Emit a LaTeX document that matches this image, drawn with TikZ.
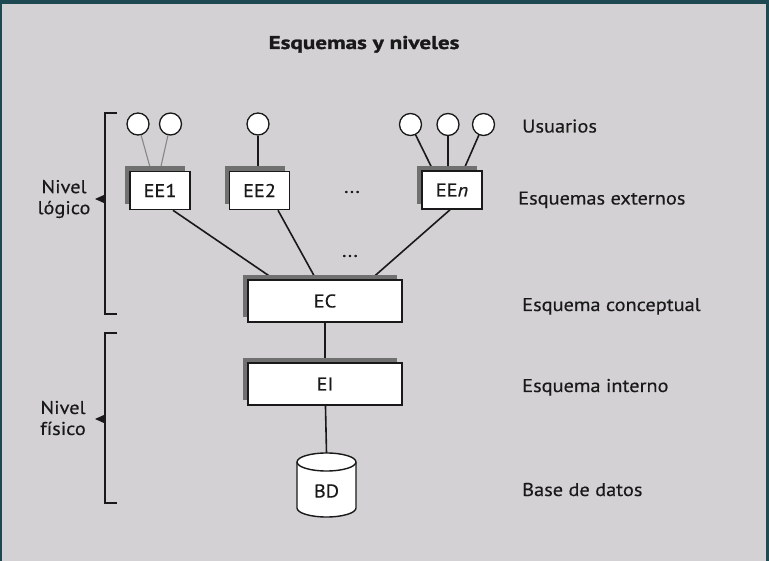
\documentclass[tikz,border=0pt]{standalone}
\usepackage{fontspec}
\setmainfont{PT Sans}[FakeStretch=1.1, FakeBold=0.35]
\newfontfamily\titlefont{PT Sans}[FakeStretch=1.25, BoldFeatures={FakeBold=1.3}]
\usetikzlibrary{shadows,calc}
\definecolor{bgteal}{RGB}{30,72,82}
\definecolor{bggray}{RGB}{211,209,212}
\definecolor{shadowgray}{RGB}{112,112,112}
\definecolor{ink}{RGB}{25,25,25}
\definecolor{thinline}{RGB}{135,135,135}
\pgfdeclarelayer{bottom}
\pgfdeclarelayer{background}
\pgfsetlayers{bottom,background,main}
\begin{document}
\begin{tikzpicture}[x=1pt,y=-1pt,
  every node/.style={font=\fontsize{18.5}{21}\selectfont, text=ink, inner sep=0pt},
  schemebox/.style={draw=ink, line width=1.6pt, fill=white,
    minimum width=60pt, minimum height=38pt,
    drop shadow={shadow xshift=-5pt, shadow yshift=5pt, fill=shadowgray, opacity=1}},
  widebox/.style={schemebox, minimum width=154pt, minimum height=42pt},
  user/.style={circle, draw=ink, line width=1.3pt, fill=white, minimum size=22pt},
  conn/.style={draw=ink, line width=1.6pt},
  thinconn/.style={draw=thinline, line width=1.1pt},
  bracket/.style={draw=ink, line width=1.6pt},
  label/.style={anchor=base west},
  levellabel/.style={align=center}
]
\useasboundingbox (0,0) rectangle (769,561);
\begin{pgfonlayer}{bottom}
  \fill[bgteal] (0,0) rectangle (769,561);
  \fill[bggray] (2,4) rectangle (766,561);
\end{pgfonlayer}

% title
\node[font=\titlefont\bfseries\fontsize{18.5}{22}\selectfont, anchor=base] (title) at (364,49) {Esquemas y niveles};

% users
\node[user] (u11) at (138,124) {};
\node[user] (u12) at (170.5,124) {};
\node[user] (u2) at (258,124) {};
\node[user] (u31) at (410.5,124.5) {};
\node[user] (u32) at (448,124.5) {};
\node[user] (u33) at (483.5,124.5) {};

% external schemas
\node[schemebox] (ee1) at (160,190.5) {EE1};
\node[schemebox] (ee2) at (259.5,190.5) {EE2};
\node[schemebox] (een) at (452,190) {EE\textit{n}};
\node (dots1) at (352,192) {...};
\node (dots2) at (350,256) {...};

% conceptual / internal
\node[widebox] (ec) at (325,301) {EC};
\node[widebox] (ei) at (325,384) {EI};

% database cylinder
\filldraw[fill=white, draw=ink, line width=1.4pt]
  (297,462) -- (297,508) arc[start angle=180, end angle=360, x radius=29.5pt, y radius=9pt] -- (356,462);
\filldraw[fill=white, draw=ink, line width=1.4pt] (326.5,462) ellipse [x radius=29.5pt, y radius=9pt];
\coordinate (bdtop) at (326.5,453);
\node (bd) at (326.5,491) {BD};

% connectors
\begin{pgfonlayer}{background}
  \draw[thinconn] (u11) -- ([xshift=-9pt]ee1.north);
  \draw[thinconn] (u12) -- (ee1.north);
  \draw[conn] (u2) -- (u2 |- ee2.north);
  \draw[conn] (u31) -- ([xshift=-19pt]een.north);
  \draw[conn] (u32) -- (u32 |- een.north);
  \draw[conn] (u33) -- ([xshift=11.5pt]een.north);
  \draw[conn] ([xshift=13pt]ee1.south) -- ([xshift=-51pt]ec.north);
  \draw[conn] ([xshift=18.5pt]ee2.south) -- ([xshift=-9pt]ec.north);
  \draw[conn] ([xshift=-2pt]een.south) -- ([xshift=46pt]ec.north);
  \draw[conn] (ec) -- (ei);
  \draw[conn] (ei) -- (bdtop);
\end{pgfonlayer}

% right labels
\node[label] (lu) at (522,132.5) {Usuarios};
\node[label] (lee) at (518,204.5) {Esquemas externos};
\node[label] (lec) at (522,311) {Esquema conceptual};
\node[label] (lei) at (522,392) {Esquema interno};
\node[label] (lbd) at (522,496) {Base de datos};

% levels
\node[levellabel] (nl) at (64,199) {Nivel\\lógico};
\node[levellabel] (nf) at (63,418) {Nivel\\físico};
\draw[bracket] (117,113) -- (105,113) -- (105,314) -- (117,314);
\fill[ink] (105,194.5) -- (95,199) -- (105,203.5) -- cycle;
\draw[bracket] (117,333) -- (105,333) -- (105,503) -- (117,503);
\fill[ink] (105,414.5) -- (95,419) -- (105,423.5) -- cycle;
\end{tikzpicture}
\end{document}
